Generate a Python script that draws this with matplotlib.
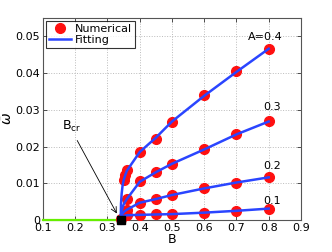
import matplotlib
matplotlib.use("Agg")
import matplotlib.pyplot as plt

# Numerical points for each amplitude A
num_B_04 = [0.35, 0.355, 0.36, 0.4, 0.45, 0.5, 0.6, 0.7, 0.8]
num_w_04 = [0.0110, 0.0122, 0.0135, 0.0186, 0.0221, 0.0268, 0.0340, 0.0405, 0.0466]
num_B = [0.36, 0.4, 0.45, 0.5, 0.6, 0.7, 0.8]
num_w_03 = [0.0056, 0.0105, 0.0130, 0.0153, 0.0192, 0.0235, 0.0269]
num_w_02 = [0.0028, 0.0047, 0.0057, 0.0068, 0.0086, 0.0102, 0.0116]
num_w_01 = [0.0013, 0.0014, 0.0016, 0.0016, 0.0020, 0.0025, 0.0031]

# Fitted curves
fit_B = [0.341, 0.342, 0.344, 0.347, 0.35, 0.355, 0.36, 0.4, 0.45, 0.5, 0.6, 0.7, 0.8]
fit_w_04 = [0.0, 0.0045, 0.0072, 0.0095, 0.0108, 0.0122, 0.0134, 0.0185, 0.0224, 0.0268, 0.0338, 0.0403, 0.0466]
fit_w_03 = [0.0, 0.0015, 0.0025, 0.0035, 0.0042, 0.0050, 0.0057, 0.0104, 0.0130, 0.0153, 0.0192, 0.0233, 0.0268]
fit_w_02 = [0.0, 0.0008, 0.0013, 0.0018, 0.0021, 0.0025, 0.0028, 0.0047, 0.0057, 0.0068, 0.0086, 0.0102, 0.0116]
fit_w_01 = [0.0, 0.0004, 0.0007, 0.0009, 0.0010, 0.0012, 0.0013, 0.0014, 0.0015, 0.0016, 0.0020, 0.0025, 0.0031]

stable_B = [0.1, 0.341]
stable_w = [0.0, 0.0]
B_cr = 0.341

curve_labels = ["A=0.4", "0.3", "0.2", "0.1"]

RED = "#ff1010"
BLUE = "#2a45ff"

fig = plt.figure(figsize=(3.32, 2.52), dpi=100)
ax = fig.add_axes([0.1295, 0.127, 0.777, 0.802])

ax.plot(stable_B, stable_w, color="#66ee00", lw=1.6, zorder=3, clip_on=False)

ax.plot(num_B_04, num_w_04, "o", color=RED, ms=7, zorder=4, label="Numerical")
for w in (num_w_03, num_w_02, num_w_01):
    ax.plot(num_B, w, "o", color=RED, ms=7, zorder=4)
ax.plot([B_cr], [0.0003], "o", color=RED, ms=7, zorder=4, clip_on=False)

ax.plot(fit_B, fit_w_04, color=BLUE, lw=1.8, zorder=5, label="Fitting")
for w in (fit_w_03, fit_w_02, fit_w_01):
    ax.plot(fit_B, w, color=BLUE, lw=1.8, zorder=5)

ax.plot([B_cr], [0.0], "s", color="black", ms=5.5, zorder=6, clip_on=False)

ax.annotate("", xy=(0.333, 0.0011), xytext=(0.202, 0.0223),
            arrowprops=dict(arrowstyle="->", color="black", lw=0.6), zorder=7)
ax.text(0.19, 0.0255, r"B$_{\rm cr}$", fontsize=9, ha="center", va="center")

label_pos = [(0.79, 0.0499), (0.81, 0.0307), (0.81, 0.0148), (0.81, 0.0052)]
for lab, (x, y) in zip(curve_labels, label_pos):
    ax.text(x, y, lab, fontsize=8, ha="center", va="center")

ax.set_xlim(0.1, 0.9)
ax.set_ylim(0, 0.055)
ax.set_xticks([0.1, 0.2, 0.3, 0.4, 0.5, 0.6, 0.7, 0.8, 0.9])
ax.set_xticklabels(["0.1", "0.2", "0.3", "0.4", "0.5", "0.6", "0.7", "0.8", "0.9"])
ax.set_yticks([0, 0.01, 0.02, 0.03, 0.04, 0.05])
ax.set_yticklabels(["0", "0.01", "0.02", "0.03", "0.04", "0.05"])
ax.tick_params(direction="in", length=3, width=0.6, labelsize=8, pad=2,
               top=True, right=True, colors="#333333", labelcolor="black")
ax.grid(True, linestyle=":", color="#bbbbbb", lw=0.7)
for s in ax.spines.values():
    s.set_color("#555555")
    s.set_linewidth(0.8)

ax.set_xlabel("B", fontsize=9, labelpad=0)
ax.set_ylabel(r"$\bar{\omega}$", fontsize=10)
ax.yaxis.set_label_coords(-0.11, 0.5)

leg = ax.legend(loc="upper left", fontsize=8, frameon=True, fancybox=False,
                borderpad=0.25, handlelength=2.0, handletextpad=0.3,
                labelspacing=0.1, borderaxespad=0.3)
leg.get_frame().set_edgecolor("black")
leg.get_frame().set_linewidth(0.8)

fig.savefig("out.png", dpi=100)
